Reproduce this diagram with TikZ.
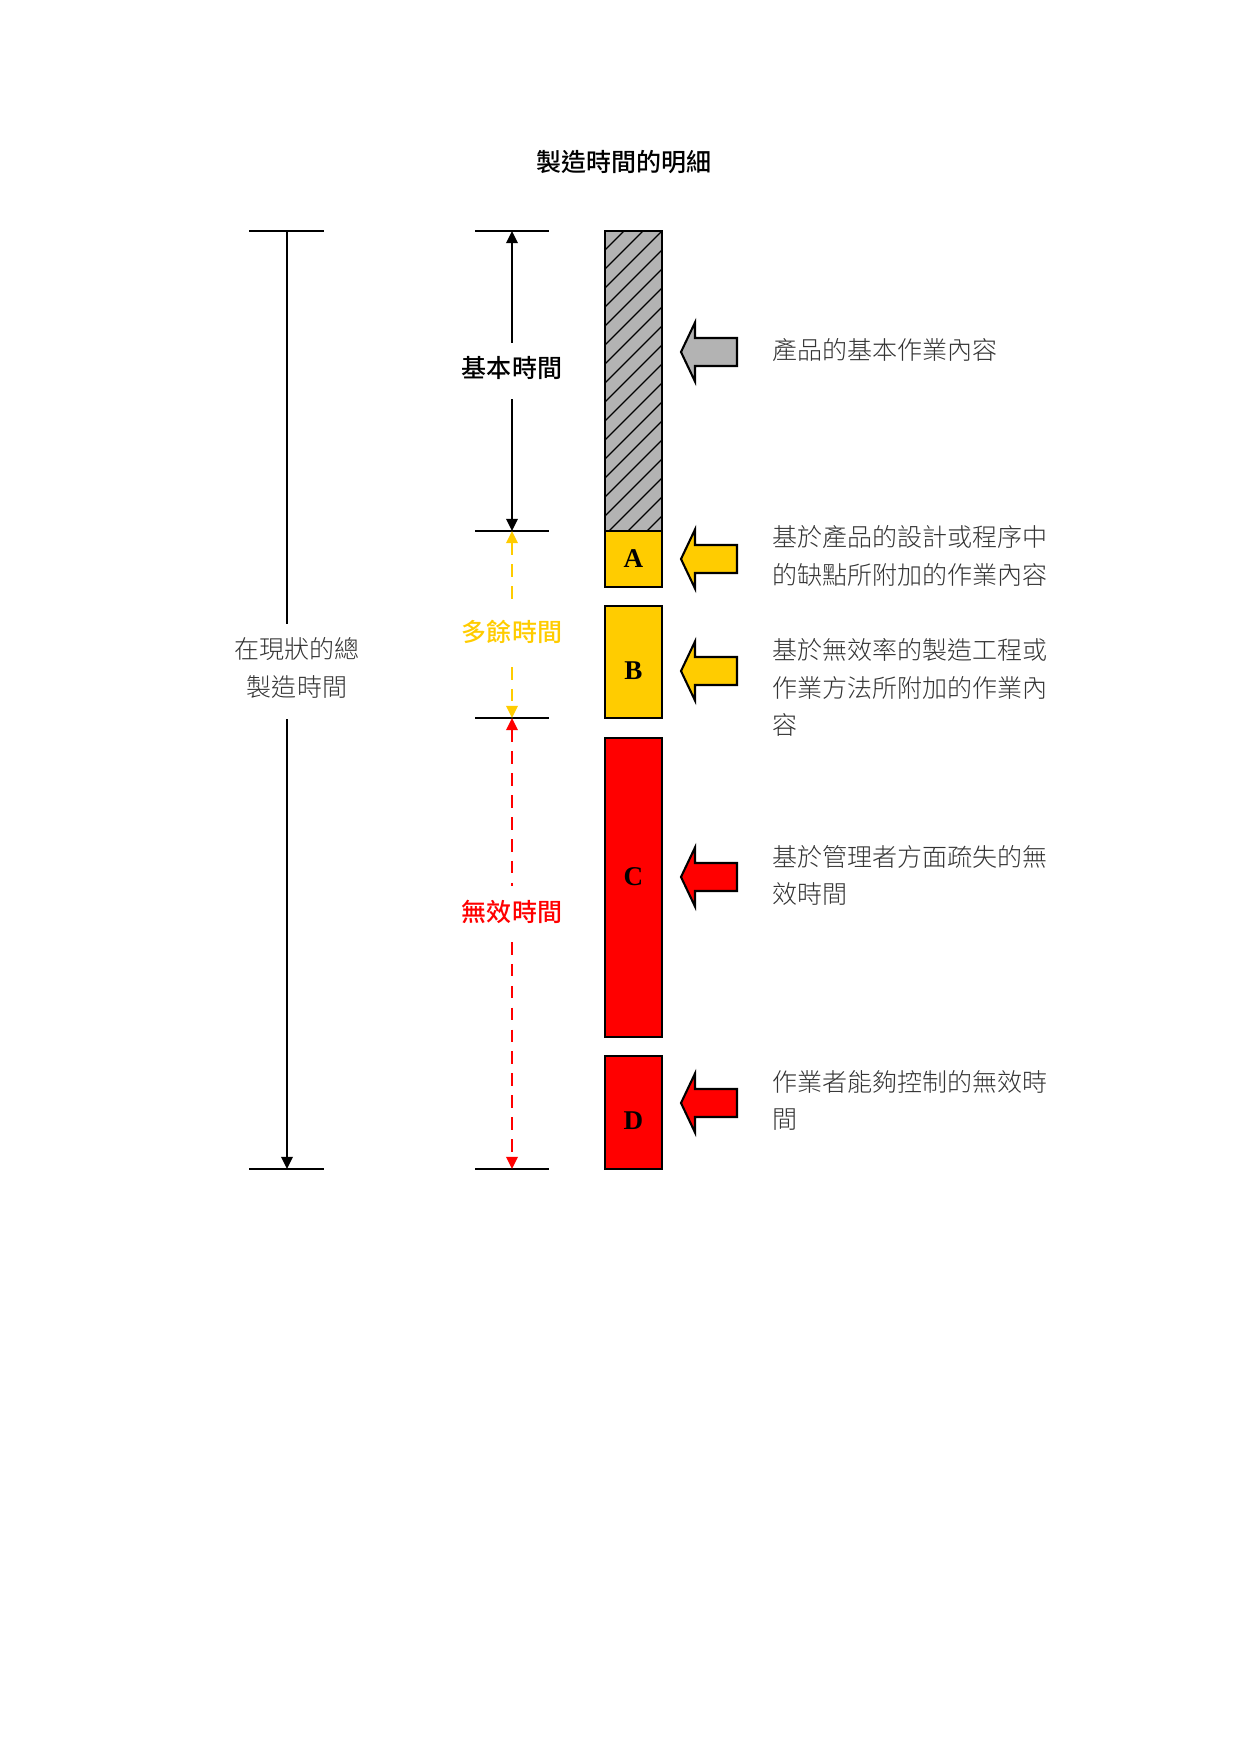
\documentclass[tikz,border=0pt]{standalone}
\usepackage{fontspec}
\setmainfont{Liberation Serif}
\newfontfamily\cjk{Noto Sans CJK TC Medium}
\newfontfamily\cjklight{Noto Sans CJK TC Light}
\usetikzlibrary{arrows.meta}
\definecolor{amber}{HTML}{FFCC00}
\definecolor{barred}{HTML}{FF0000}
\definecolor{bargray}{HTML}{B3B3B3}
\definecolor{txtgray}{HTML}{333333}
\tikzset{
  tick/.style={line width=0.6pt},
  tip/.style={-{Triangle[length=5.8pt,width=5.5pt]}},
  tipstart/.style={{Triangle[length=5.8pt,width=5.5pt]}-},
  dimline/.style={line width=1pt},
  dashdim/.style={line width=1pt, dash pattern=on 6pt off 4.5pt},
  bar/.style={draw=black, line width=1pt},
  barlabel/.style={font=\fontsize{13}{15}\selectfont\bfseries},
  desc/.style={anchor=west, align=left, text=txtgray, inner sep=0pt,
    font=\cjklight\fontsize{12}{18}\selectfont},
  dimlabel/.style={inner sep=0pt, font=\cjk\fontsize{12}{18}\selectfont},
  blockarrow/.style={draw=black, line width=1pt, line join=miter},
}
\begin{document}
\begin{tikzpicture}[x=0.4797pt,y=-0.4797pt]
\useasboundingbox (0,0) rectangle (1241,1754);

% title
\node[dimlabel] (title) at (624,162) {製造時間的明細};

% ---------- left dimension ----------
\coordinate (LtA) at (249,231); \coordinate (LtB) at (324,231);
\coordinate (LbA) at (249,1169); \coordinate (LbB) at (324,1169);
\coordinate (Ltop) at (287,231); \coordinate (Lbot) at (287,1169);
\coordinate (Lg1) at (287,624); \coordinate (Lg2) at (287,719);
\draw[tick] (LtA) -- (LtB);
\draw[tick] (LbA) -- (LbB);
\draw[dimline] (Ltop) -- (Lg1);
\draw[dimline,tip] (Lg2) -- (Lbot);
\node[desc, anchor=center, align=center] (ltext) at (297,668) {在現狀的總\\製造時間};

% ---------- middle dimension ----------
\coordinate (M0a) at (475,231);  \coordinate (M0b) at (549,231);
\coordinate (M1a) at (475,531);  \coordinate (M1b) at (549,531);
\coordinate (M2a) at (475,718);  \coordinate (M2b) at (549,718);
\coordinate (M3a) at (475,1169); \coordinate (M3b) at (549,1169);
\draw[tick] (M0a) -- (M0b);
\draw[tick] (M1a) -- (M1b);
\draw[tick] (M2a) -- (M2b);
\draw[tick] (M3a) -- (M3b);

\coordinate (m0) at (512,231);
\coordinate (m1) at (512,531);
\coordinate (m2) at (512,718);
\coordinate (m3) at (512,1169);
\coordinate (bg1) at (512,343); \coordinate (bg2) at (512,399);
\coordinate (yg1) at (512,602); \coordinate (yg2) at (512,667);
\coordinate (rg1) at (512,886); \coordinate (rg2) at (512,942);

\draw[dimline,tipstart] (m0) -- (bg1);
\draw[dimline,tip] (bg2) -- (m1);
\node[dimlabel] (lbasic) at (512,368) {基本時間};

\draw[dashdim,amber,tipstart] (m1) -- (yg1);
\draw[dashdim,amber,tip] (yg2) -- (m2);
\node[dimlabel,text=amber] (lextra) at (512,632) {多餘時間};

\draw[dashdim,barred,tipstart] (m2) -- (rg1);
\draw[dashdim,barred,tip] (rg2) -- (m3);
\node[dimlabel,text=barred] (lwaste) at (512,912) {無效時間};

% ---------- bars ----------
\fill[bargray] (605,231) rectangle (662,531);
\begin{scope}
  \clip (605,231) rectangle (662,531);
  \foreach \c in {231,250,...,620} {
    \draw[line width=0.6pt] (605,\c) -- (662,\c-57);
  }
\end{scope}
\draw[bar] (605,231) rectangle (662,531);

\draw[bar,fill=amber] (605,531) rectangle (662,587);
\node[barlabel] (lA) at (633.5,559) {A};
\draw[bar,fill=amber] (605,606) rectangle (662,718);
\node[barlabel] (lB) at (633.5,671) {B};
\draw[bar,fill=barred] (605,738) rectangle (662,1037);
\node[barlabel] (lC) at (633.5,877) {C};
\draw[bar,fill=barred] (605,1056) rectangle (662,1169);
\node[barlabel] (lD) at (633.5,1121) {D};

% ---------- block arrows ----------
\foreach \yy/\col in {352/bargray,559/amber,671/amber,877/barred,1103/barred} {
  \draw[blockarrow,fill=\col] (681,\yy) -- (695,\yy-29.5) -- (695,\yy-14)
     -- (737,\yy-14) -- (737,\yy+14) -- (695,\yy+14) -- (695,\yy+29.5) -- cycle;
}

% ---------- descriptions ----------
\node[desc] (d1) at (772,350) {產品的基本作業內容};
\node[desc] (d2) at (772,556) {基於產品的設計或程序中\\的缺點所附加的作業內容};
\node[desc] (d3) at (772,687.5) {基於無效率的製造工程或\\作業方法所附加的作業內\\容};
\node[desc] (d4) at (772,875.5) {基於管理者方面疏失的無\\效時間};
\node[desc] (d5) at (772,1100.5) {作業者能夠控制的無效時\\間};
\end{tikzpicture}
\end{document}
